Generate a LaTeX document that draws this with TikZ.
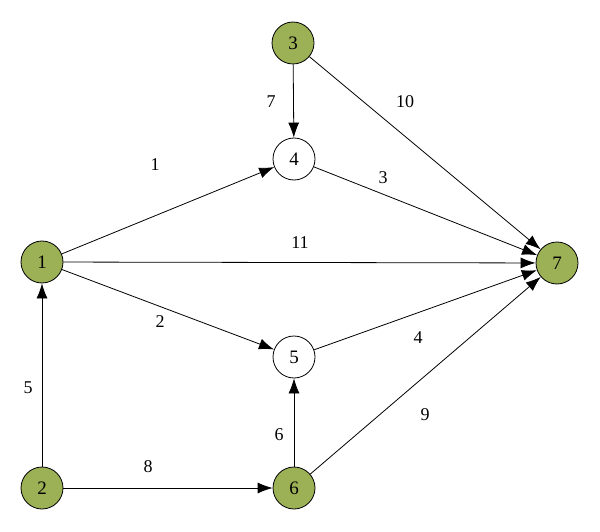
\documentclass[tikz,border=0pt]{standalone}
\usepackage{fontspec}
\setmainfont{Liberation Serif}
\usetikzlibrary{arrows.meta}

\definecolor{olivefill}{RGB}{156,176,86}

\tikzset{
    vtx/.style={circle, draw, line width=0.8pt, minimum size=42pt, inner sep=0pt, font=\fontsize{19}{22}\selectfont},
    src/.style={vtx, fill=olivefill},
    arc/.style={line width=0.8pt, -{Latex[length=15pt,width=11pt]}},
    wt/.style={font=\fontsize{18}{21}\selectfont}
}

\begin{document}
\begin{tikzpicture}[x=1pt, y=-1pt]
    \useasboundingbox (0,0) rectangle (600,532);

    % vertices
    \node[src] (n3) at (293, 43) {3};
    \node[vtx] (n4) at (294, 159) {4};
    \node[src] (n1) at (42, 262) {1};
    \node[src] (n7) at (557, 263) {7};
    \node[vtx] (n5) at (294, 357) {5};
    \node[src] (n2) at (42, 488) {2};
    \node[src] (n6) at (294, 488) {6};

    % arcs
    \draw[arc] (n3) -- (n4);
    \draw[arc] (n3) -- (n7);
    \draw[arc] (n1) -- (n4);
    \draw[arc] (n4) -- (n7);
    \draw[arc] (n1) -- (n7);
    \draw[arc] (n1) -- (n5);
    \draw[arc] (n5) -- (n7);
    \draw[arc] (n2) -- (n1);
    \draw[arc] (n2) -- (n6);
    \draw[arc] (n6) -- (n5);
    \draw[arc] (n6) -- (n7);

    % weights
    \node[wt] (w34) at (271, 102) {7};
    \node[wt] (w37) at (405, 102) {10};
    \node[wt] (w14) at (155, 165) {1};
    \node[wt] (w47) at (383, 178) {3};
    \node[wt] (w17) at (300, 243) {11};
    \node[wt] (w15) at (160, 322) {2};
    \node[wt] (w57) at (418, 338) {4};
    \node[wt] (w21) at (28, 388) {5};
    \node[wt] (w65) at (279, 435) {6};
    \node[wt] (w67) at (425, 415) {9};
    \node[wt] (w26) at (148, 467) {8};
\end{tikzpicture}
\end{document}
